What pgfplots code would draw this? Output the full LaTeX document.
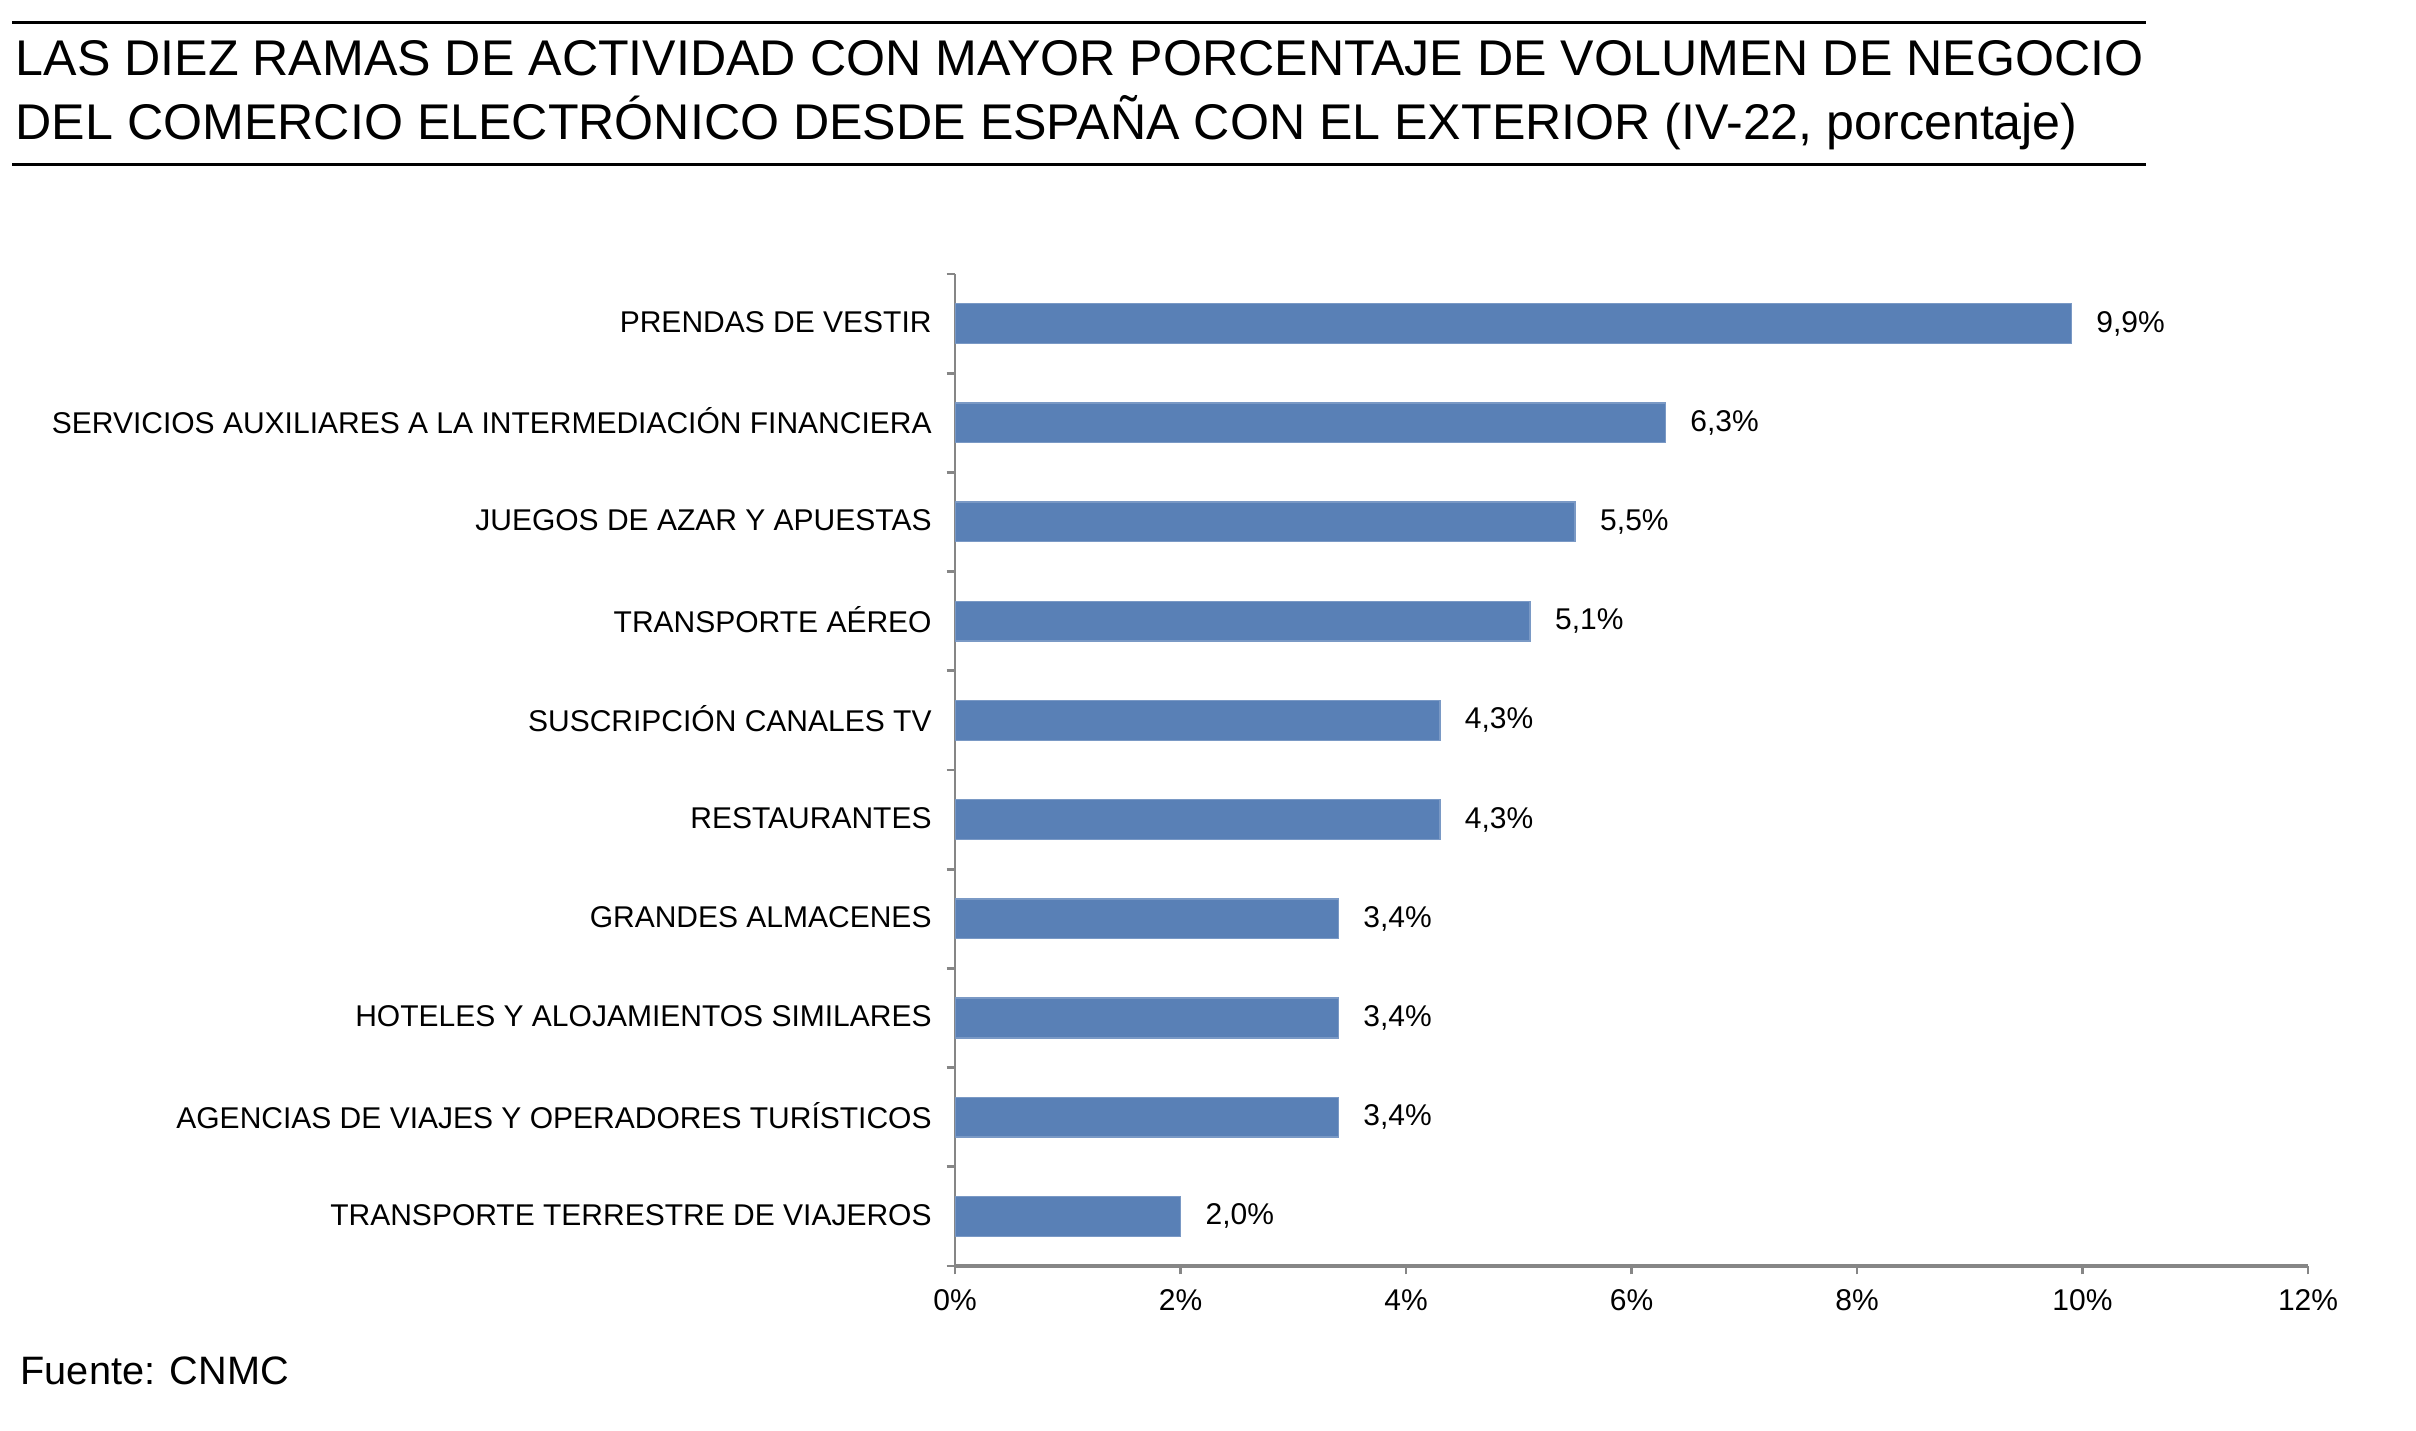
\documentclass[border=0pt]{standalone}
\usepackage{pgfplots}
\pgfplotsset{compat=1.18}
\usepackage{fontspec}
\setmainfont{Liberation Sans}
\definecolor{barblue}{RGB}{89,128,182}
\definecolor{axgray}{RGB}{134,134,134}
\begin{document}
\begin{tikzpicture}
\useasboundingbox (0,0) rectangle (724.8pt,429pt);
\draw[line width=0.9pt] (3.6pt,422.1pt) -- (643.8pt,422.1pt);
\draw[line width=0.9pt] (3.6pt,379.5pt) -- (643.8pt,379.5pt);
\node[anchor=west,inner sep=0pt,font=\fontsize{15.05}{16}\selectfont] at (4.5pt,411.5pt) {LAS DIEZ RAMAS DE ACTIVIDAD CON MAYOR PORCENTAJE DE VOLUMEN DE NEGOCIO};
\node[anchor=west,inner sep=0pt,font=\fontsize{15.05}{16}\selectfont] at (4.5pt,392.1pt) {DEL COMERCIO ELECTRÓNICO DESDE ESPAÑA CON EL EXTERIOR (IV-22, porcentaje)};
\node[anchor=west,inner sep=0pt,font=\fontsize{11.9}{13}\selectfont] at (6pt,17.7pt) {Fuente: CNMC};
\begin{axis}[
  at={(286.5pt,49.2pt)}, anchor=south west,
  scale only axis, width=405.9pt, height=297.6pt,
  xbar, bar width=0.4,
  xmin=0, xmax=12, ymin=-0.5, ymax=9.5,
  enlargelimits=false,
  axis lines*=left,
  axis line style={-, draw=axgray},
  x axis line style={line width=1.2pt},
  y axis line style={line width=0.8pt},
  xtick={0,2,4,6,8,10,12},
  xticklabels={0\%,2\%,4\%,6\%,8\%,10\%,12\%},
  ytick={-0.5,0.5,...,9.5},
  yticklabels={},
  tick align=outside,
  major tick length=2.5pt,
  tick style={draw=axgray, line width=0.8pt},
  extra y ticks={0,1,2,3,4,5,6,7,8,9},
  extra y tick labels={TRANSPORTE TERRESTRE DE VIAJEROS,AGENCIAS DE VIAJES Y OPERADORES TURÍSTICOS,HOTELES  Y ALOJAMIENTOS SIMILARES,GRANDES ALMACENES,RESTAURANTES,SUSCRIPCIÓN CANALES TV,TRANSPORTE AÉREO,JUEGOS DE AZAR Y APUESTAS,SERVICIOS AUXILIARES A LA INTERMEDIACIÓN FINANCIERA,PRENDAS DE VESTIR},
  extra y tick style={major tick length=0pt},
  ticklabel style={font=\fontsize{9}{10}\selectfont},
  yticklabel style={xshift=-3.5pt, yshift=0.5pt},
  xticklabel style={yshift=-1pt},
  point meta=x,
  nodes near coords={\pgfmathprintnumber[fixed,fixed zerofill,precision=1,use comma,assume math mode=true]{\pgfplotspointmeta}\%},
  every node near coord/.append style={font=\fontsize{9}{10}\selectfont, xshift=4pt, text=black},
]
\addplot[fill=barblue, draw=barblue!80!white] coordinates {
(2.0,0) (3.4,1) (3.4,2) (3.4,3) (4.3,4) (4.3,5) (5.1,6) (5.5,7) (6.3,8) (9.9,9)
};
\end{axis}
\end{tikzpicture}
\end{document}
